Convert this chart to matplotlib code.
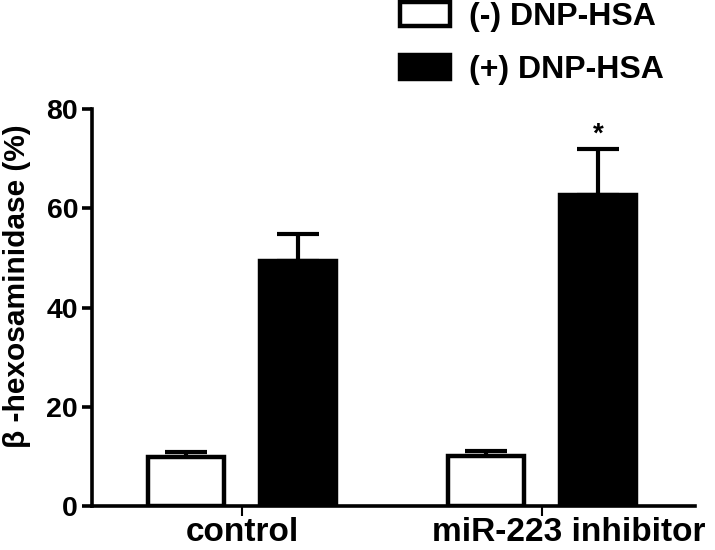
import numpy as np
import matplotlib.pyplot as plt
from matplotlib.transforms import ScaledTranslation

plt.rcParams['font.family'] = ['Liberation Sans', 'DejaVu Sans']
plt.rcParams['font.weight'] = 'bold'

# Data
groups = ['control', 'miR-223 inhibitor']
neg_mean = [9.9, 10.1]
neg_err = [1.0, 1.0]
pos_mean = [49.4, 62.7]
pos_err = [5.4, 9.3]
series_labels = ['(-) DNP-HSA', '(+) DNP-HSA']

x = np.arange(len(groups))
width = 0.255
offset = 0.187

fig = plt.figure(figsize=(7.15, 5.5), dpi=100)
ax = fig.add_axes([92 / 715, 44 / 550, 603 / 715, 397 / 550])

b1 = ax.bar(x - offset, neg_mean, width, color='white', edgecolor='black',
            linewidth=3.2, label=series_labels[0], zorder=2)
b2 = ax.bar(x + offset, pos_mean, width, color='black', edgecolor='black',
            linewidth=3.2, label=series_labels[1], zorder=2)

ax.errorbar(x - offset, neg_mean, yerr=[np.zeros(2), neg_err], fmt='none',
            ecolor='black', elinewidth=3, capsize=15, capthick=3, zorder=1)
ax.errorbar(x + offset, pos_mean, yerr=[np.zeros(2), pos_err], fmt='none',
            ecolor='black', elinewidth=3, capsize=15, capthick=3, zorder=1)

# significance mark
ax.text(x[1] + offset, pos_mean[1] + pos_err[1] + 0.3, '*', ha='center',
        va='bottom', fontsize=20, fontweight='bold')

ax.set_xlim(-0.5, 1.51)
ax.set_ylim(0, 80)
ax.set_yticks([0, 20, 40, 60, 80])
ax.set_xticks(x)
ax.set_xticklabels(groups)

for s in ['top', 'right']:
    ax.spines[s].set_visible(False)
for s in ['left', 'bottom']:
    ax.spines[s].set_linewidth(2.6)

ax.tick_params(axis='y', length=7, width=2.6, labelsize=20.5, pad=3)
ax.tick_params(axis='x', length=7, width=1.5, labelsize=24, pad=1)

# the second group label sits a little right of its tick in the original
lbl = ax.get_xticklabels()[1]
lbl.set_transform(lbl.get_transform() + ScaledTranslation(0.27, 0, fig.dpi_scale_trans))

fig.text(17 / 715, 1 - 286 / 550, 'β -hexosaminidase (%)', rotation=90,
         ha='center', va='center', fontsize=21.5, fontweight='bold')

ax.legend(loc='upper left', bbox_to_anchor=(398 / 715, 1.0),
          bbox_transform=fig.transFigure, frameon=False, fontsize=23,
          handlelength=1.57, handleheight=0.8, handletextpad=0.6,
          labelspacing=0.72, borderpad=0.05, borderaxespad=0)

fig.savefig('out.png', dpi=100)
